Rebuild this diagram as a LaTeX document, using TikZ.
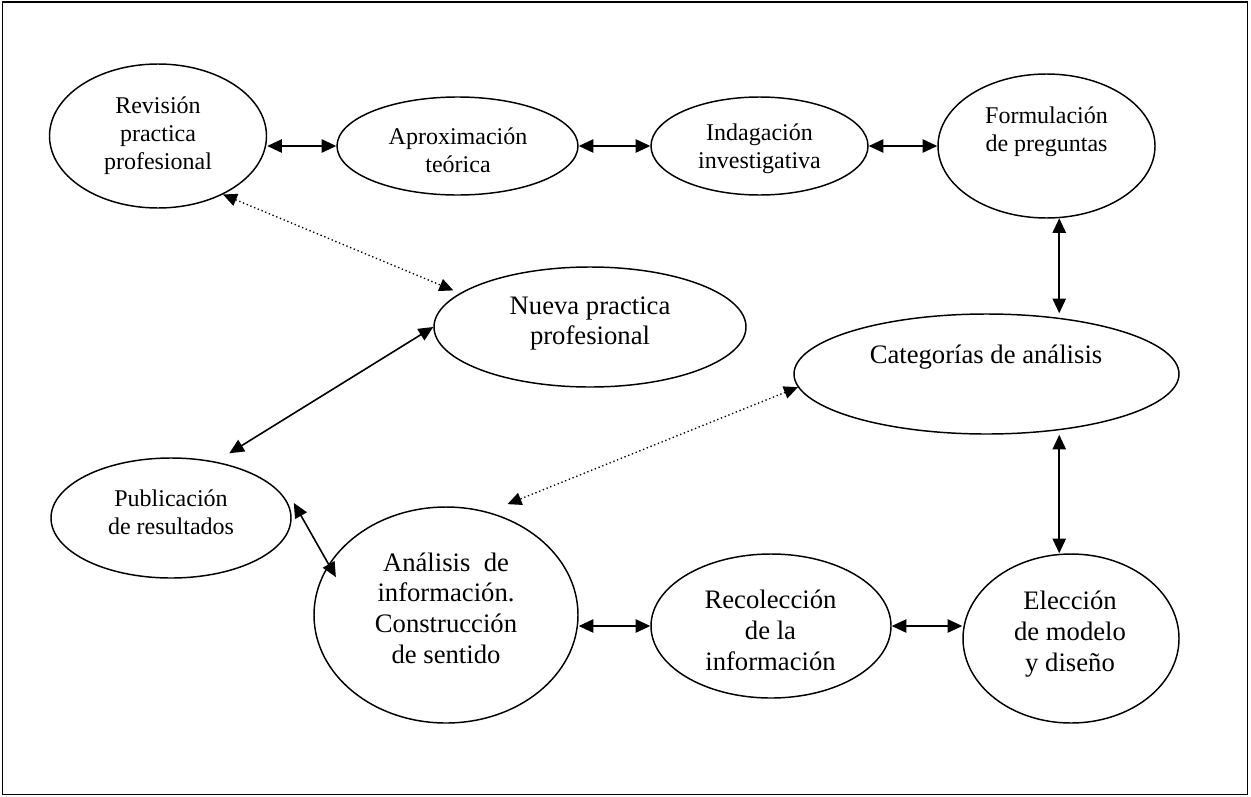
\documentclass[tikz,border=0pt]{standalone}
\usepackage{fontspec}
\setmainfont{Liberation Serif}
\usetikzlibrary{arrows.meta,shapes.geometric,calc}
\begin{document}
\begin{tikzpicture}[x=0.75pt,y=-0.75pt,
  ell/.style 2 args={draw, ellipse, line width=1.1pt, minimum width=#1*0.75pt, minimum height=#2*0.75pt, inner sep=0pt},
  small/.style={align=center, font=\fontsize{18}{21}\selectfont, inner sep=0pt},
  big/.style={align=center, font=\fontsize{20}{23}\selectfont, inner sep=0pt},
  both/.style={{Triangle[length=11pt,width=10pt]}-{Triangle[length=11pt,width=10pt]}, line width=1.2pt},
  dots/.style={{Triangle[length=10.5pt,width=9.5pt]}-{Triangle[length=10.5pt,width=9.5pt]}, line width=1pt, dotted}
]
\useasboundingbox (0,0) rectangle (1251,796);
\draw[line width=1.1pt] (2.5,2) rectangle (1247.5,794.5);

% ellipses
\node[ell={217}{144}] (rev)   at (158,136) {};
\node[ell={241}{98}]  (aprox) at (457.5,146) {};
\node[ell={217}{98}]  (indag) at (759.5,146) {};
\node[ell={217}{144}] (form)  at (1046.5,146) {};
\node[ell={312}{120}] (nueva) at (590,327) {};
\node[ell={385}{120}] (cat)   at (986.5,374) {};
\node[ell={240}{120}] (pub)   at (171,518) {};
\node[ell={264}{216}] (anal)  at (446,615) {};
\node[ell={240}{144}] (recol) at (771,626) {};
\node[ell={216}{169}] (elec)  at (1071,638.5) {};

% texts
\node[small] (revt)   at (158,135.5) {Revisión\\practica\\profesional};
\node[small] (aproxt) at (458,150) {Aproximación\\teórica};
\node[small] (indagt) at (759.5,149) {Indagación\\investigativa};
\node[small] (formt)  at (1046.5,132) {Formulación\\de preguntas};
\node[big]   (nuevat) at (590,323.5) {Nueva practica\\profesional};
\node[big]   (catt)   at (986,357) {Categorías de análisis};
\node[small] (pubt)   at (171,512.5) {Publicación\\de resultados};
\node[big]   (analt)  at (446,608) {Análisis\ \ de\\información.\\Construcción\\de sentido};
\node[big]   (recolt) at (770.5,630.5) {Recolección\\de la\\información};
\node[big]   (elect)  at (1070,634) {Elección\\de modelo\\y diseño};

% connectors
\draw[both] (aprox.west -| rev.east) -- (aprox.west);
\draw[both] (aprox.east) -- (indag.west);
\draw[both] (indag.east) -- (indag.east -| form.west);
\draw[both] (form.-80) -- (form.-80 |- cat.north);
\draw[both] (cat.south -| form.-80) -- (elec.north -| form.-80);
\draw[both] (recol.west -| anal.east) -- (recol.west);
\draw[both] (recol.east) -- (recol.east -| elec.west);
\draw[both] (nueva.west) -- ($(pub.center)!1.17!(pub.48)$);
\draw[both] ($(pub.center)!1.047!(pub.7)$) -- ($(anal.center)!0.9!(anal.161)$);
\draw[dots] (rev.-42) -- ($(nueva.center)!1.06!(nueva.165)$);
\draw[dots] (cat.184) -- ($(anal.center)!1.12!(anal.61)$);
\end{tikzpicture}
\end{document}
